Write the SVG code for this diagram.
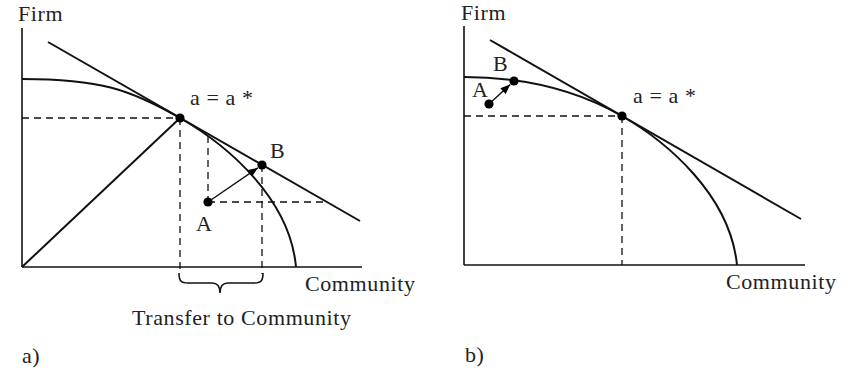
<svg xmlns="http://www.w3.org/2000/svg" width="863" height="372" viewBox="0 0 863 372">
<style>
text{font-family:"Liberation Serif","Times New Roman",serif;font-size:22px;fill:#222;letter-spacing:0.6px}
.ax{stroke:#111;stroke-width:1.6;fill:none}
.ln{stroke:#111;stroke-width:2;fill:none}
.ds{stroke:#111;stroke-width:1.3;fill:none;stroke-dasharray:7,5}
.ar{stroke:#111;stroke-width:1.4;fill:none;marker-end:url(#ah)}
.dt{fill:#000}
</style>
<defs>
<marker id="ah" markerUnits="userSpaceOnUse" markerWidth="10" markerHeight="8" refX="10" refY="4" orient="auto">
<path d="M0,0 L10,4 L0,8 z" fill="#000"/>
</marker>
</defs>
<g id="panel-a">
<g id="axes-a">
<line class="ax" x1="22" y1="28" x2="22" y2="267"/>
<line class="ax" x1="22" y1="267" x2="362" y2="267"/>
</g>
<g id="curves-a">
<path class="ln" d="M22,79 C100,79 130,89.3 180,118 C230,146.7 290,200 296,267"/>
<line class="ln" x1="48" y1="42" x2="360" y2="221"/>
<line class="ln" x1="22" y1="267" x2="180" y2="118"/>
</g>
<g id="connectors-a">
<line class="ds" x1="22" y1="118" x2="180" y2="118"/>
<line class="ds" x1="180" y1="118" x2="180" y2="274"/>
<line class="ds" x1="208" y1="136" x2="208" y2="202"/>
<line class="ds" x1="208" y1="202" x2="326" y2="202"/>
<line class="ds" x1="262" y1="165" x2="262" y2="274"/>
<line class="ar" x1="208" y1="202" x2="257.9" y2="167.8"/>
<path class="ax" stroke-width="1.4" d="M179,273 C179,281 181,283 188,283 L212,283 C218,283 220,287 220,293 C220,287 222,283 228,283 L254,283 C261,283 263,281 263,273"/>
</g>
<g id="node-astar-a"><circle class="dt" cx="180" cy="118" r="4.6"/><text x="190" y="105">a = a *</text></g>
<g id="node-B-a"><circle class="dt" cx="262" cy="165" r="4.6"/><text x="270" y="158">B</text></g>
<g id="node-A-a"><circle class="dt" cx="208" cy="202" r="4.6"/><text x="196" y="231">A</text></g>
<text x="18" y="21">Firm</text>
<text x="305" y="291">Community</text>
<text x="132" y="325">Transfer to Community</text>
<text x="22" y="363">a)</text>
</g>
<g id="panel-b">
<g id="axes-b">
<line class="ax" x1="464" y1="26" x2="464" y2="265"/>
<line class="ax" x1="464" y1="265" x2="805" y2="265"/>
</g>
<g id="curves-b">
<path class="ln" d="M464,77 C530,77 580,91.8 622,116 C667,142 730,195 737,265"/>
<line class="ln" x1="490" y1="40" x2="801" y2="219"/>
</g>
<g id="connectors-b">
<line class="ds" x1="464" y1="116" x2="622" y2="116"/>
<line class="ds" x1="622" y1="116" x2="622" y2="265"/>
<line class="ar" x1="489" y1="104" x2="510.3" y2="84.4"/>
</g>
<g id="node-astar-b"><circle class="dt" cx="622" cy="116" r="4.6"/><text x="633" y="103">a = a *</text></g>
<g id="node-B-b"><circle class="dt" cx="514" cy="81" r="4.6"/><text x="493" y="71">B</text></g>
<g id="node-A-b"><circle class="dt" cx="489" cy="104" r="4.6"/><text x="472" y="97">A</text></g>
<text x="461" y="20">Firm</text>
<text x="726" y="289">Community</text>
<text x="465" y="362">b)</text>
</g>
</svg>
